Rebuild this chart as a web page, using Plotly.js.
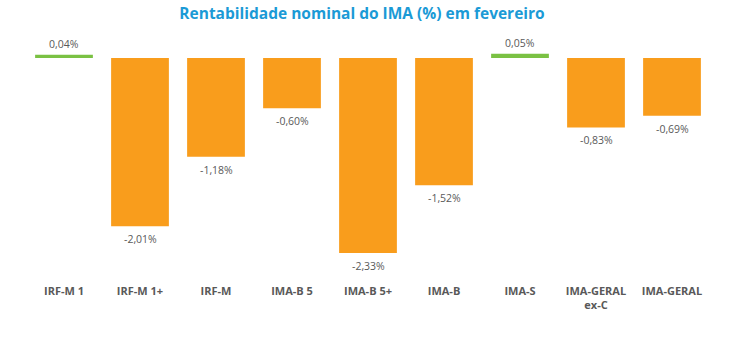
<!DOCTYPE html>
<html>
<head>
<meta charset="utf-8">
<script src="https://cdn.plot.ly/plotly-3.0.1.min.js"></script>
<style>html,body{margin:0;padding:0;background:#fff;}#chart{width:750px;height:355px;}</style>
</head>
<body>
<div id="chart"></div>
<script>
const categories = ["IRF-M 1", "IRF-M 1+", "IRF-M", "IMA-B 5", "IMA-B 5+", "IMA-B", "IMA-S", "IMA-GERAL<br>ex-C", "IMA-GERAL"];
const values = [0.04, -2.01, -1.18, -0.60, -2.33, -1.52, 0.05, -0.83, -0.69];
const positiveColor = "#7AC143";
const negativeColor = "#F99D1C";

const labels = values.map(v => v.toFixed(2).replace(".", ",") + "%");
const colors = values.map(v => v >= 0 ? positiveColor : negativeColor);

const trace = {
  type: "bar",
  x: categories,
  y: values,
  marker: {color: colors},
  cliponaxis: false,
  hoverinfo: "none"
};

const annotations = categories.map((c, i) => ({
  x: c, y: values[i], xref: "x", yref: "y",
  text: labels[i], showarrow: false,
  yanchor: values[i] >= 0 ? "bottom" : "top",
  yshift: values[i] >= 0 ? 2 : -4,
  font: {family: "Open Sans, sans-serif", size: 10.5, color: "#595959"}
}));

const layout = {
  width: 750,
  height: 355,
  margin: {l: 26, r: 40, t: 40, b: 75},
  paper_bgcolor: "#ffffff",
  plot_bgcolor: "#ffffff",
  bargap: 0.24,
  showlegend: false,
  annotations: annotations,
  title: {
    text: "<b>Rentabilidade nominal do IMA (%) em fevereiro</b>",
    font: {family: "Open Sans, sans-serif", size: 15.5, color: "#1B9AD6"},
    x: 362/750, xref: "container", xanchor: "center",
    y: 0.962, yref: "container", yanchor: "middle"
  },
  xaxis: {
    showgrid: false, zeroline: false, showline: false, ticks: "",
    ticklabelstandoff: 3,
    tickfont: {family: "Open Sans, sans-serif", size: 11, color: "#595959", weight: "bold"},
    fixedrange: true
  },
  yaxis: {
    range: [-2.652, 0.215],
    showgrid: false, zeroline: false, showline: false, showticklabels: false, ticks: "",
    fixedrange: true
  }
};

Plotly.newPlot("chart", [trace], layout, {displayModeBar: false, staticPlot: true});
</script>
</body>
</html>
